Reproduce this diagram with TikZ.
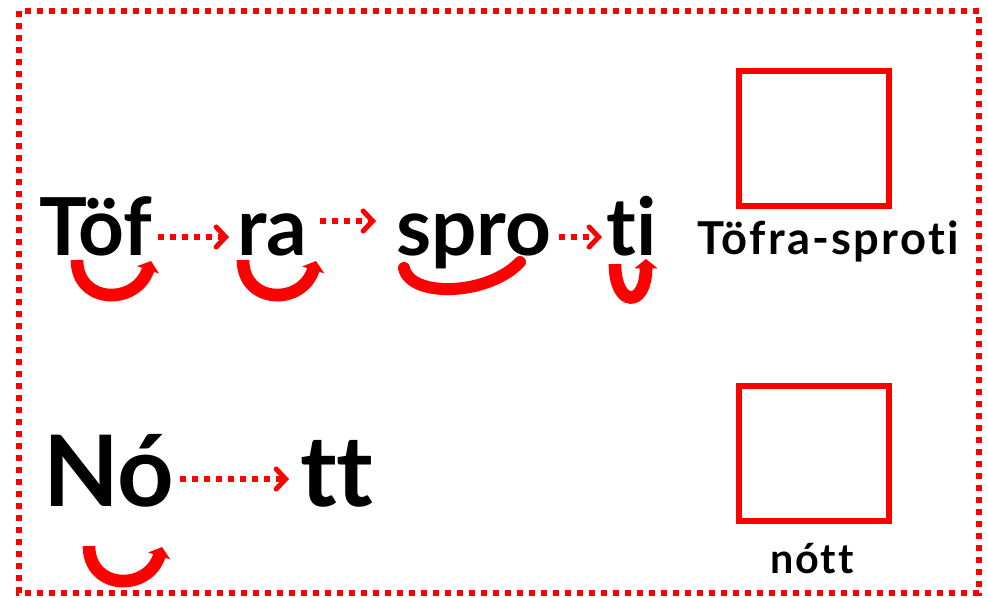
\documentclass[tikz,border=0pt]{standalone}
\usepackage{fontspec}
\setmainfont{Lato}[Ligatures=NoCommon]
\usetikzlibrary{arrows.meta}
\begin{document}
\begin{tikzpicture}[x=0.75pt,y=-0.75pt,
  word/.style={inner sep=0pt,anchor=base west,font=\fontsize{60}{60}\selectfont\bfseries},
  bigword/.style={inner sep=0pt,anchor=base west,font=\fontsize{74}{74}\selectfont\bfseries},
  label/.style={inner sep=0pt,anchor=base,font=\fontsize{34}{34}\selectfont\bfseries\addfontfeature{LetterSpace=5}},
  smalllabel/.style={inner sep=0pt,anchor=base,font=\fontsize{31}{31}\selectfont\bfseries\addfontfeature{LetterSpace=5}},
  answerbox/.style={draw=red,line width=4.5pt,minimum width=112.5pt,minimum height=101.25pt,inner sep=0pt},
  dotarrow/.style={red,line width=3.8pt,dash pattern=on 4.5pt off 4.5pt,-{Straight Barb[length=7pt,width=15pt,line cap=round,line width=3.8pt]}},
  swoosh/.style={red,line width=9.5pt,-{Triangle[length=7pt,width=17pt]}},
  swooshplain/.style={red,line width=9pt,line cap=round}]
\useasboundingbox (0,0) rectangle (988,597);
\draw[red,line width=4.5pt,dash pattern=on 4.5pt off 4.5pt] (19,11) rectangle (979,593);
% words
\node[word] (tof) at (39,255) {Töf};
\node[word] (ra) at (237,255) {ra};
\node[word] (spro) at (396,255) {spro};
\node[word] (ti) at (606,255) {ti};
\node[bigword] (no) at (43,506) {Nó};
\node[bigword] (tt) at (300,506) {tt};
% boxes and labels
\node[answerbox] (box1) at (814,138.5) {};
\node[answerbox] (box2) at (814,453.5) {};
\node[label] (lab1) at (828,254) {Töfra-sproti};
\node[smalllabel] (lab2) at (812,573) {nótt};
% arrow endpoints
\coordinate (a1s) at (158,237); \coordinate (a1e) at (229,237);
\coordinate (a2s) at (320,221); \coordinate (a2e) at (376,221);
\coordinate (a3s) at (559,237); \coordinate (a3e) at (602,237);
\coordinate (a4s) at (180,479); \coordinate (a4e) at (289,479);
\draw[dotarrow] (a1s) -- (a1e);
\draw[dotarrow] (a2s) -- (a2e);
\draw[dotarrow] (a3s) -- (a3e);
\draw[dotarrow] (a4s) -- (a4e);
% swooshes
\coordinate (s1a) at (77,260); \coordinate (s1b) at (151,261);
\draw[swoosh] (s1a) .. controls (77,304) and (136,306) .. (s1b);
\coordinate (s2a) at (243,260); \coordinate (s2b) at (316,261);
\draw[swoosh] (s2a) .. controls (243,304) and (302,306) .. (s2b);
\coordinate (s3a) at (404,268); \coordinate (s3b) at (520,262);
\draw[swooshplain] (s3a) .. controls (410,298) and (488,296) .. (s3b);
\coordinate (s4a) at (615,264); \coordinate (s4b) at (646,259);
\draw[swoosh] (s4a) .. controls (615,308) and (646,308) .. (s4b);
\coordinate (s5a) at (89,546); \coordinate (s5b) at (162,547);
\draw[swoosh] (s5a) .. controls (89,590) and (148,592) .. (s5b);
\end{tikzpicture}
\end{document}
